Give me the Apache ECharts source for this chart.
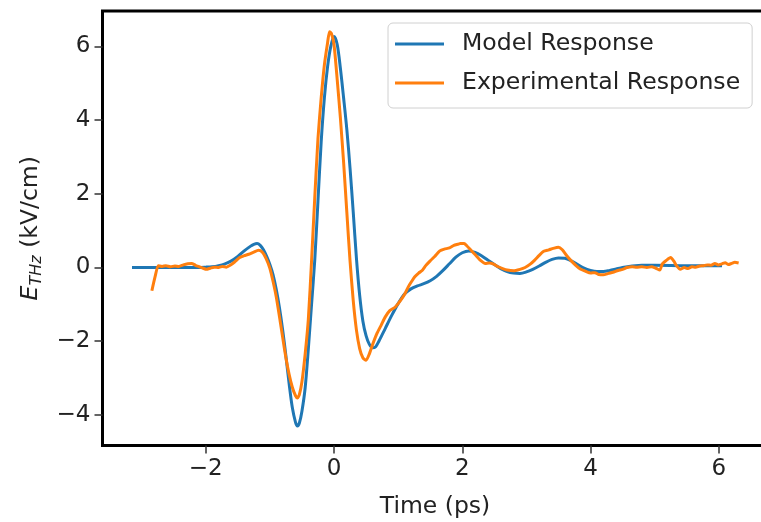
<!DOCTYPE html>
<html>
<head>
<meta charset="utf-8">
<script src="https://cdn.jsdelivr.net/npm/echarts@6/dist/echarts.min.js"></script>
<style>
html,body{margin:0;padding:0;background:#fff;overflow:hidden;}
#chart{width:761px;height:522px;}
</style>
</head>
<body>
<div id="chart"></div>
<script>
var seriesNames = ['Model Response', 'Experimental Response'];
var xTicks = [-2, 0, 2, 4, 6];
var yTicks = [-4, -2, 0, 2, 4, 6];

var modelX = [-3.15,-2.5,-2.2,-2.0,-1.9,-1.8,-1.7,-1.6,-1.5,-1.4,-1.3,-1.25,-1.2,-1.15,-1.1,-1.05,-1.0,-0.95,-0.9,-0.85,-0.8,-0.75,-0.7,-0.65,-0.6,-0.57,-0.54,-0.5,-0.45,-0.4,-0.35,-0.3,-0.25,-0.2,-0.15,-0.1,-0.05,0.0,0.05,0.1,0.15,0.2,0.25,0.3,0.35,0.4,0.45,0.5,0.55,0.6,0.65,0.7,0.8,0.9,1.0,1.1,1.2,1.3,1.4,1.5,1.6,1.7,1.8,1.9,2.0,2.1,2.2,2.3,2.4,2.5,2.6,2.7,2.8,2.9,3.0,3.1,3.2,3.3,3.4,3.5,3.6,3.7,3.8,3.9,4.0,4.1,4.2,4.3,4.4,4.5,4.6,4.7,4.8,5.0,5.5,6.05];
var modelY = [0,0,0,0.01,0.02,0.05,0.1,0.18,0.3,0.45,0.58,0.63,0.65,0.6,0.48,0.3,0.08,-0.2,-0.6,-1.1,-1.7,-2.4,-3.15,-3.8,-4.2,-4.3,-4.22,-3.9,-3.27,-2.2,-1.0,0.2,1.8,3.4,4.6,5.45,6.0,6.27,6.05,5.4,4.6,3.75,2.7,1.5,0.25,-0.75,-1.45,-1.85,-2.08,-2.18,-2.15,-2.0,-1.65,-1.3,-0.98,-0.72,-0.58,-0.5,-0.44,-0.36,-0.24,-0.08,0.1,0.28,0.4,0.45,0.41,0.32,0.2,0.08,-0.03,-0.11,-0.15,-0.16,-0.12,-0.05,0.04,0.14,0.22,0.26,0.25,0.18,0.08,-0.02,-0.08,-0.11,-0.11,-0.08,-0.04,0.0,0.03,0.05,0.06,0.06,0.05,0.05];

var expX = [-2.84,-2.79,-2.74,-2.68,-2.62,-2.55,-2.48,-2.42,-2.35,-2.28,-2.22,-2.16,-2.1,-2.04,-1.99,-1.93,-1.87,-1.8,-1.74,-1.68,-1.62,-1.55,-1.47,-1.4,-1.33,-1.25,-1.18,-1.12,-1.06,-1.0,-0.95,-0.9,-0.84,-0.8,-0.75,-0.7,-0.65,-0.6,-0.57,-0.54,-0.5,-0.45,-0.4,-0.35,-0.3,-0.25,-0.2,-0.15,-0.1,-0.07,-0.04,0.0,0.05,0.1,0.15,0.2,0.25,0.3,0.35,0.4,0.45,0.5,0.55,0.6,0.67,0.74,0.8,0.87,0.95,1.0,1.06,1.11,1.16,1.21,1.26,1.32,1.37,1.43,1.5,1.57,1.65,1.72,1.8,1.87,1.93,1.97,2.03,2.07,2.13,2.2,2.28,2.36,2.42,2.49,2.56,2.63,2.7,2.8,2.9,2.98,3.06,3.13,3.2,3.27,3.35,3.42,3.5,3.56,3.63,3.7,3.77,3.84,3.92,4.0,4.07,4.13,4.2,4.28,4.35,4.43,4.5,4.57,4.65,4.72,4.8,4.88,4.95,5.02,5.08,5.12,5.18,5.25,5.3,5.34,5.4,5.46,5.52,5.58,5.64,5.7,5.76,5.82,5.88,5.94,5.99,6.05,6.1,6.15,6.2,6.25,6.31];
var expY = [-0.63,-0.25,0.05,0.03,0.05,0.02,0.04,0.03,0.07,0.1,0.11,0.06,0.02,-0.02,-0.05,-0.02,0.01,0.0,0.03,0.01,0.06,0.15,0.27,0.32,0.36,0.42,0.47,0.42,0.25,-0.02,-0.38,-0.8,-1.45,-1.9,-2.45,-2.9,-3.25,-3.48,-3.54,-3.45,-3.1,-2.35,-1.4,0.18,1.9,3.5,4.6,5.5,6.1,6.4,6.35,6.05,5.1,4.05,2.85,1.5,0.18,-0.9,-1.7,-2.2,-2.45,-2.52,-2.35,-2.1,-1.79,-1.55,-1.34,-1.17,-1.08,-0.98,-0.84,-0.7,-0.52,-0.38,-0.25,-0.15,-0.09,0.05,0.18,0.3,0.45,0.5,0.53,0.6,0.63,0.65,0.65,0.59,0.48,0.35,0.2,0.11,0.12,0.09,0.02,-0.03,-0.07,-0.09,-0.05,0.0,0.09,0.2,0.33,0.44,0.48,0.52,0.55,0.48,0.32,0.18,0.06,-0.04,-0.1,-0.15,-0.14,-0.19,-0.2,-0.16,-0.13,-0.08,-0.05,0.0,0.02,0.01,0.02,0.0,0.02,-0.02,-0.07,0.1,0.19,0.27,0.17,0.05,-0.05,0.0,-0.03,0.02,0.01,0.04,0.05,0.07,0.06,0.11,0.07,0.1,0.13,0.08,0.11,0.14,0.12];

function zip(xs, ys) { return xs.map(function (x, i) { return [x, ys[i]]; }); }
function fmt(v) { return String(v).replace('-', '\u2212'); }

var FONT = 'DejaVu Sans';
var TXT = '#222';
var FS = 23;
var chart = echarts.init(document.getElementById('chart'), null, {renderer: 'canvas', width: 761, height: 522});
chart.setOption({
  animation: false,
  backgroundColor: '#fff',
  textStyle: {fontFamily: FONT},
  grid: {left: 102.5, top: 11, width: 665, bottom: 76.5, show: true, borderColor: '#000', borderWidth: 3,
         backgroundColor: 'transparent', containLabel: false, outerBoundsMode: 'none'},
  legend: {
    left: 388, top: 23, orient: 'vertical',
    data: seriesNames,
    icon: 'rect', itemWidth: 49, itemHeight: 3, itemGap: 15,
    padding: [9, 12, 13, 7],
    borderColor: '#d0d0d0', borderWidth: 1, borderRadius: 5,
    backgroundColor: 'rgba(255,255,255,0.85)',
    textStyle: {fontFamily: FONT, fontSize: 23.6, color: TXT, lineHeight: 24, padding: [0, 0, 0, 13]}
  },
  xAxis: {
    type: 'value', min: -3.61, max: 6.76,
    name: 'Time (ps)', nameLocation: 'middle', nameGap: 49,
    nameTextStyle: {fontFamily: FONT, fontSize: 23.5, color: TXT},
    axisLine: {show: false, onZero: false},
    axisTick: {show: true, length: 8, lineStyle: {color: '#333', width: 1.5}, customValues: xTicks},
    axisLabel: {fontFamily: FONT, fontSize: FS, color: TXT, margin: 12, customValues: xTicks, formatter: fmt},
    splitLine: {show: false}
  },
  yAxis: {
    type: 'value', min: -4.83, max: 6.96,
    name: '{i|E}{s|THz}{n| (kV/cm)}', nameLocation: 'middle', nameGap: 58, nameRotate: 90,
    nameTextStyle: {
      fontFamily: FONT, fontSize: FS, color: TXT,
      rich: {
        i: {fontFamily: FONT, fontSize: 23.5, fontStyle: 'italic', color: TXT, lineHeight: 28},
        s: {fontFamily: FONT, fontSize: 16, fontStyle: 'italic', color: TXT, padding: [12, 0, 0, 0]},
        n: {fontFamily: FONT, fontSize: 23.5, color: TXT, lineHeight: 28}
      }
    },
    axisLine: {show: false, onZero: false},
    axisTick: {show: true, length: 8, lineStyle: {color: '#333', width: 1.5}, customValues: yTicks},
    axisLabel: {fontFamily: FONT, fontSize: FS, color: TXT, margin: 12, customValues: yTicks, formatter: fmt},
    splitLine: {show: false}
  },
  series: [
    {name: seriesNames[0], type: 'line', data: zip(modelX, modelY), showSymbol: false, smooth: 0.3,
     lineStyle: {color: '#1f77b4', width: 3}, itemStyle: {color: '#1f77b4'}, clip: true, z: 2},
    {name: seriesNames[1], type: 'line', data: zip(expX, expY), showSymbol: false, smooth: 0.2,
     lineStyle: {color: '#ff7f0e', width: 3}, itemStyle: {color: '#ff7f0e'}, clip: true, z: 3}
  ]
});
</script>
</body>
</html>
